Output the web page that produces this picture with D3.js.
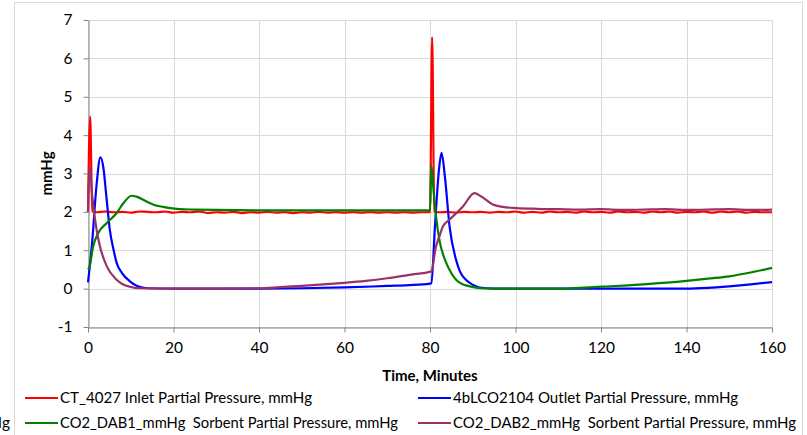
<!DOCTYPE html>
<html>
<head>
<meta charset="utf-8">
<script src="https://cdn.jsdelivr.net/npm/d3@7"></script>
<style>
  body { margin: 0; background: #fff; }
  svg { font-family: Lato, "Open Sans", sans-serif; }
</style>
</head>
<body>
<svg id="chart" width="807" height="435"></svg>
<script>
// values: [minutes, mmHg]
var inlet = [[0,2.00],[0.5,4.48],[1.0,2.02],[2,1.99],[4,2.01],[6,1.99],[8,2.00],[10,1.98],[12,2.01],[14,2.00],
  [16,1.99],[18,2.01],[20,1.98],[22,2.00],[24,1.99],[26,2.01],[28,1.97],[30,1.99],[32,1.98],[34,2.00],[36,1.97],
  [38,1.99],[40,1.98],[42,2.00],[44,1.98],[46,1.99],[48,1.97],[50,1.99],[52,1.98],[54,2.00],[56,1.98],[58,1.99],
  [60,1.98],[62,1.99],[64,1.98],[66,1.99],[68,1.98],[70,1.99],[72,1.98],[74,1.99],[76,1.98],[78,1.99],[80,1.99],
  [80.5,6.55],[81.0,2.02],[82,1.99],[84,2.00],[86,1.98],[88,2.00],[90,1.99],[92,2.00],[94,1.98],[96,2.00],[98,1.99],
  [100,2.01],[102,1.98],[104,2.00],[106,1.98],[108,2.01],[110,1.99],[112,2.00],[114,1.98],[116,2.01],[118,1.99],
  [120,2.00],[122,1.98],[124,2.01],[126,1.99],[128,2.00],[130,1.98],[132,2.01],[134,1.99],[136,2.01],[138,1.98],
  [140,2.00],[142,1.99],[144,2.01],[146,1.98],[148,2.01],[150,1.99],[152,2.01],[154,1.98],[156,2.00],[158,1.99],[160,1.99]];

var outlet = [[0,0.16],[1,1.25],[2,2.7],[2.9,3.42],[3.6,3.15],[4.3,2.4],[5.1,1.54],[6,1.0],[6.7,0.67],[8,0.4],
  [9.8,0.19],[11.5,0.07],[14,0.01],[20,0],[30,0],[40,0],[50,0.01],[60,0.03],[70,0.07],[75,0.09],[80,0.13],
  [80.3,0.14],[81.2,1.7],[82.1,3.1],[82.7,3.54],[83.5,2.9],[84.6,1.6],[86.1,0.75],[87,0.45],[88.4,0.23],[90,0.1],
  [91.6,0.03],[95,0],[100,0],[110,0],[120,0],[130,0],[140,0],[145,0.02],[150,0.06],[155,0.11],[160,0.17]];

var dab1 = [[0,0.5],[0.3,0.55],[1.2,1.1],[2.4,1.45],[4.4,1.71],[6.7,1.97],[8.3,2.23],[10.2,2.42],[11.5,2.39],
  [13.7,2.27],[15.5,2.18],[17.6,2.13],[21.5,2.07],[25,2.06],[30,2.05],[40,2.04],[50,2.04],[60,2.04],[70,2.04],
  [80,2.04],[80.3,3.21],[80.8,2.6],[81.5,1.8],[82.2,1.27],[83.8,0.67],[85,0.4],[86.1,0.23],[87.5,0.12],[89.3,0.06],
  [92,0.01],[95,0],[110,0],[115,0.02],[120,0.05],[130,0.11],[140,0.2],[145,0.26],[150,0.32],[155,0.42],[160,0.54]];

var dab2 = [[0,2.0],[0.4,3.18],[1,2.4],[2,1.54],[2.8,1.1],[4.4,0.58],[6.7,0.23],[8,0.12],[9.8,0.05],[12,0.01],
  [20,0],[30,0],[40,0.01],[45,0.04],[50,0.07],[55,0.11],[60,0.15],[65,0.2],[70,0.27],[75.2,0.36],[80.3,0.45],
  [81.4,1.1],[82.2,1.36],[83,1.62],[84.6,1.8],[87.7,2.14],[90.4,2.49],[92,2.4],[94.7,2.19],[97,2.13],[100.2,2.1],
  [105,2.08],[110,2.07],[115,2.06],[120,2.07],[125,2.05],[130,2.06],[135,2.07],[140,2.05],[145,2.06],[150,2.07],
  [155,2.05],[160,2.06]];

var seriesNames = ["CT_4027 Inlet Partial Pressure, mmHg", "4bLCO2104 Outlet Partial Pressure, mmHg",
  "CO2_DAB1_mmHg  Sorbent Partial Pressure, mmHg", "CO2_DAB2_mmHg  Sorbent Partial Pressure, mmHg"];
var seriesColors = ["#ff0000", "#0000ff", "#008000", "#993366"];
var seriesData = [inlet, outlet, dab1, dab2];

var xTicks = [0, 20, 40, 60, 80, 100, 120, 140, 160];
var yTicks = [-1, 0, 1, 2, 3, 4, 5, 6, 7];

(function() {
  var svg = d3.select("#chart");
  var pLeft = 88, pRight = 772, pTop = 20, pBottom = 327;

  // outer chart border
  svg.append("rect").attr("x", 14.5).attr("y", 2.5).attr("width", 788).attr("height", 450)
    .attr("fill", "none").attr("stroke", "#d9d9d9");

  var x = d3.scaleLinear().domain([0, 160]).range([pLeft, pRight]);
  var y = d3.scaleLinear().domain([-1, 7]).range([pBottom, pTop]);

  // grid
  svg.append("g").selectAll("line").data(yTicks).enter().append("line")
    .attr("x1", pLeft).attr("x2", pRight)
    .attr("y1", d => Math.round(y(d)) + 0.5).attr("y2", d => Math.round(y(d)) + 0.5)
    .attr("stroke", "#d9d9d9");
  svg.append("g").selectAll("line").data(xTicks).enter().append("line")
    .attr("y1", pTop).attr("y2", pBottom)
    .attr("x1", d => Math.round(x(d)) + 0.5).attr("x2", d => Math.round(x(d)) + 0.5)
    .attr("stroke", "#d9d9d9");

  // axes
  var xAxis = svg.append("g").attr("transform", "translate(0," + (pBottom + 0.5) + ")")
    .call(d3.axisBottom(x).tickValues(xTicks).tickSize(5).tickPadding(9).tickSizeOuter(0));
  var yAxis = svg.append("g").attr("transform", "translate(" + (pLeft + 0.5) + ",0)")
    .call(d3.axisLeft(y).tickValues(yTicks).tickSize(5).tickPadding(11).tickSizeOuter(0)
      .tickFormat(d => d < 0 ? "-" + Math.abs(d) : d));
  [xAxis, yAxis].forEach(function(a) {
    a.selectAll("path, line").attr("stroke", "#868686");
    a.selectAll("text").attr("font-size", "15.5px").attr("fill", "#000")
      .style("font-family", "Lato, 'Open Sans', sans-serif");
  });

  // lines
  var line = d3.line().x(d => x(d[0])).y(d => y(d[1])).curve(d3.curveMonotoneX);
  seriesData.forEach(function(s, i) {
    svg.append("path").datum(s).attr("d", line)
      .attr("fill", "none").attr("stroke", seriesColors[i]).attr("stroke-width", 2.2)
      .attr("stroke-linejoin", "round");
  });

  // axis titles
  svg.append("text").attr("x", 430).attr("y", 381).attr("text-anchor", "middle")
    .attr("font-size", "15px").attr("font-weight", "bold").text("Time, Minutes");
  svg.append("text").attr("transform", "translate(52," + ((pTop + pBottom) / 2) + ") rotate(-90)")
    .attr("text-anchor", "middle").attr("font-size", "15px").attr("font-weight", "bold").text("mmHg");

  // legend (text widths as in the picture)
  var legPos = [[25, 398], [418, 398], [25, 423], [418, 423]];
  var legWidth = [252, 285, 338, 343];
  seriesNames.forEach(function(n, i) {
    var p = legPos[i];
    svg.append("line").attr("x1", p[0]).attr("x2", p[0] + 33).attr("y1", p[1]).attr("y2", p[1])
      .attr("stroke", seriesColors[i]).attr("stroke-width", 2.2);
    svg.append("text").attr("x", p[0] + 35).attr("y", p[1] + 5).attr("font-size", "15.5px")
      .attr("textLength", legWidth[i]).attr("lengthAdjust", "spacingAndGlyphs")
      .style("white-space", "pre").text(n);
  });
  // clipped leftover legend text at the left edge
  svg.append("text").attr("x", 10).attr("y", 428).attr("text-anchor", "end").attr("font-size", "15.5px").text("mmHg");
})();
</script>
</body>
</html>
